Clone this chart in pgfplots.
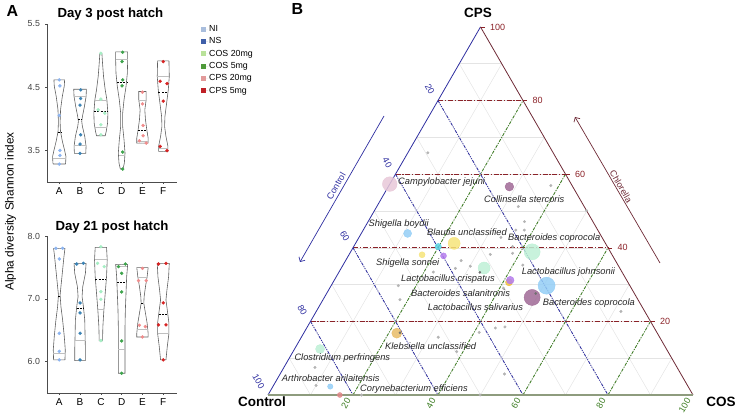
\documentclass[border=0pt]{standalone}
\usepackage{fontspec}
\setmainfont{Liberation Sans}
\usepackage{pgfplots}
\pgfplotsset{compat=1.18}
\usepackage{pgfplotstable}
\usetikzlibrary{arrows.meta}

\definecolor{cNI}{HTML}{8CB4F0}
\definecolor{cNS}{HTML}{3A82B4}
\definecolor{cCa}{HTML}{A6EEC4}
\definecolor{cCb}{HTML}{3DA34B}
\definecolor{cPa}{HTML}{F08C8C}
\definecolor{cPb}{HTML}{D62222}
\definecolor{lNI}{HTML}{A9BEDD}
\definecolor{lNS}{HTML}{3F5FA9}
\definecolor{lCa}{HTML}{B9E29A}
\definecolor{lCb}{HTML}{4E9A3A}
\definecolor{lPa}{HTML}{E29A9A}
\definecolor{lPb}{HTML}{BF2026}
\definecolor{ctlc}{HTML}{2E2EA0}
\definecolor{cpsc}{HTML}{8B2228}
\definecolor{edgec}{HTML}{6E2A36}
\definecolor{cosc}{HTML}{3C7D22}
\definecolor{botc}{HTML}{8E9C7E}
\definecolor{gridc}{HTML}{E4E4E4}
\definecolor{dotc}{HTML}{B4B4B4}
\definecolor{ddotc}{HTML}{707070}
\definecolor{bPink}{HTML}{E8C8D8}
\definecolor{bPurp}{HTML}{A06A96}
\definecolor{bBlue}{HTML}{94CEF6}
\definecolor{bYel}{HTML}{F6E47A}
\definecolor{bCyan}{HTML}{5AD4E2}
\definecolor{bViol}{HTML}{B47CEC}
\definecolor{bMint}{HTML}{BEF0D6}
\definecolor{bOrg}{HTML}{F0C040}
\definecolor{bKle}{HTML}{E8BC68}
\definecolor{bRed}{HTML}{E08888}

\newcommand{\tlf}{\fontsize{9}{10}\selectfont}
\newcommand{\spf}{\fontsize{9.3}{11}\selectfont\itshape\color{black!85}}

\pgfplotsset{
  vio/.style={draw=black!62, line width=0.6pt, no markers, forget plot},
  qline/.style={draw=black!25, line width=0.6pt, no markers, forget plot},
  mline/.style={draw=black, line width=0.7pt, dash pattern=on 2pt off 1.3pt, no markers, forget plot},
  pt/.style={only marks, mark=*, mark size=1.5pt, forget plot},
  panelA/.style={scale only axis, width=130pt, xmin=0.41, xmax=6.66,
    axis lines=left, axis line style={draw=black!70, line width=0.6pt, -},
    xtick={1,2,3,4,5,6}, xticklabels={A,B,C,D,E,F},
    tick align=outside, major tick length=2pt, tick style={black!70, line width=0.5pt},
    yticklabel style={font=\fontsize{8.8}{10}\selectfont, text=black!75, xshift=-1.5pt},
    xticklabel style={font=\fontsize{10}{12}\selectfont},
    /pgf/number format/assume math mode=true,
    title style={font=\fontsize{13.2}{15}\selectfont\bfseries, anchor=center, yshift=-7pt},
    clip=false}
}

\newcommand{\violin}[2]{%
  \addplot[vio] table[x expr=#1+\thisrow{w}, y=v] {#2};
  \addplot[vio] table[x expr=#1-\thisrow{w}, y=v] {#2};
}
\newcommand{\bub}[4]{%
  \addplot[only marks, color=#4, mark=*, mark size=#3pt, mark options={fill=#4, draw=none, fill opacity=0.85}] table[x expr=\thisrow{c}+0.5*\thisrow{p}, y expr=0.8660254*\thisrow{p}, row sep=\\] {c p\\ #1 #2\\};
}

% ---------- Day 3 violins (value, half width in category units)
\pgfplotstableread{
v w
4.616 0
4.616 0.257
4.52 0.241
4.35 0.145
4.15 0.064
3.95 0.040
3.80 0.060
3.65 0.145
3.50 0.257
3.40 0.322
3.30 0.305
3.284 0.289
3.284 0
}\vAthree
\pgfplotstableread{
v w
4.468 0
4.468 0.305
4.353 0.289
4.195 0.209
4.037 0.113
3.958 0.080
3.879 0.113
3.721 0.225
3.563 0.289
3.453 0.273
3.453 0
}\vBthree
\pgfplotstableread{
v w
5.037 0
5.037 0.048
4.879 0.080
4.668 0.129
4.458 0.209
4.300 0.289
4.089 0.338
3.932 0.322
3.800 0.257
3.732 0.209
3.732 0
}\vCthree
\pgfplotstableread{
v w
5.058 0
5.058 0.289
4.932 0.289
4.721 0.273
4.511 0.209
4.300 0.113
4.089 0.048
3.879 0.048
3.668 0.113
3.458 0.161
3.300 0.129
3.205 0.064
3.205 0
}\vDthree
\pgfplotstableread{
v w
4.432 0
4.432 0.177
4.300 0.177
4.142 0.113
3.984 0.145
3.826 0.209
3.695 0.273
3.616 0.273
3.616 0
}\vEthree
\pgfplotstableread{
v w
4.916 0
4.916 0.273
4.668 0.289
4.458 0.241
4.247 0.161
4.037 0.080
3.879 0.064
3.721 0.129
3.563 0.225
3.484 0.225
3.484 0
}\vFthree
% ---------- Day 21 violins
\pgfplotstableread{
v w
7.804 0
7.804 0.273
7.671 0.225
7.459 0.161
7.247 0.096
7.061 0.040
6.875 0.080
6.663 0.161
6.398 0.241
6.186 0.289
6.027 0.273
6.027 0
}\vAtw
\pgfplotstableread{
v w
7.565 0
7.565 0.289
7.406 0.257
7.194 0.129
7.034 0.096
6.875 0.161
6.663 0.225
6.398 0.241
6.186 0.257
6.016 0.257
6.016 0
}\vBtw
\pgfplotstableread{
v w
7.82 0
7.82 0.273
7.618 0.305
7.353 0.273
7.088 0.209
6.822 0.145
6.557 0.096
6.329 0.080
6.329 0
}\vCtw
\pgfplotstableread{
v w
7.549 0
7.549 0.289
7.353 0.241
7.088 0.209
6.822 0.177
6.557 0.161
6.292 0.161
6.027 0.161
5.814 0.161
5.814 0
}\vDtw
\pgfplotstableread{
v w
7.496 0
7.496 0.273
7.353 0.225
7.194 0.145
7.034 0.080
6.928 0.064
6.769 0.145
6.610 0.225
6.451 0.273
6.392 0.273
6.392 0
}\vEtw
\pgfplotstableread{
v w
7.565 0
7.565 0.289
7.353 0.257
7.141 0.177
6.981 0.129
6.822 0.193
6.610 0.273
6.451 0.273
6.239 0.193
6.027 0.129
6.027 0
}\vFtw

% ---------- ternary: small grey taxa (COS %, CPS %)
\pgfplotstableread{
c p
4.7 65.8
38.1 56.9
33.3 51.2
36.8 47.1
37.9 44.8
35.9 44.8
33.4 42.8
37.4 40.3
33.2 38.2
38.3 38.5
42.3 35.3
49.9 50.1
27.2 36.5
26.9 34.4
30.1 35.0
22.2 33.4
15.8 29.7
18.1 25.9
40.9 29.0
44.4 18.2
46.5 18.5
41.2 17.0
32.2 15.7
38.5 11.8
52.8 5.7
7.3 7.5
10.0 2.6
22.0 0
49.9 0
71.7 22.7
}\grayd
\pgfplotstableread{
c p
33.2 33.3
49.2 27.6
22.6 16.9
}\darkd

\begin{document}
\begin{tikzpicture}
\path[use as bounding box] (0,0) rectangle (737pt,414pt);

% ================= Panel A, Day 3
\begin{axis}[panelA, at={(47pt,232pt)}, anchor=south west, height=158pt,
  ymin=3.0, ymax=5.5, ytick={3.5,4.5,5.5}, yticklabels={3.5,4.5,5.5},
  title={Day 3 post hatch}, title style={at={(0.488,1.07)}},
  legend image code/.code={\fill[#1] (0pt,-2.4pt) rectangle (4.8pt,2.4pt); \path (0pt,0pt) -- (7pt,0pt);},
  legend style={at={(1.185,1.0)}, anchor=north west, draw=none, fill=none,
    font=\fontsize{8.8}{10}\selectfont, row sep=2.1pt, inner sep=0pt,
    nodes={inner sep=1pt, anchor=west, text height=6.4pt, text depth=1.8pt}},
  legend cell align=left,
  legend entries={NI,NS,COS 20mg,COS 5mg,CPS 20mg,CPS 5mg}]
\addlegendimage{fill=lNI, draw=none}
\addlegendimage{fill=lNS, draw=none}
\addlegendimage{fill=lCa, draw=none}
\addlegendimage{fill=lCb, draw=none}
\addlegendimage{fill=lPa, draw=none}
\addlegendimage{fill=lPb, draw=none}
\violin{1}{\vAthree}
\violin{2}{\vBthree}
\violin{3}{\vCthree}
\violin{4}{\vDthree}
\violin{5}{\vEthree}
\violin{6}{\vFthree}
% quartiles
\addplot[qline] coordinates {(0.68,3.379) (1.32,3.379)};
\addplot[qline] coordinates {(1.71,4.363) (2.29,4.363)};
\addplot[qline] coordinates {(1.71,3.574) (2.29,3.574)};
\addplot[qline] coordinates {(2.71,4.30) (3.29,4.30)};
\addplot[qline] coordinates {(2.69,3.863) (3.31,3.863)};
\addplot[qline] coordinates {(3.71,4.942) (4.29,4.942)};
\addplot[qline] coordinates {(3.85,3.416) (4.15,3.416)};
\addplot[qline] coordinates {(4.83,4.30) (5.17,4.30)};
\addplot[qline] coordinates {(4.73,3.642) (5.27,3.642)};
\addplot[qline] coordinates {(5.71,4.668) (6.29,4.668)};
\addplot[qline] coordinates {(5.78,3.537) (6.22,3.537)};
% medians
\addplot[mline] coordinates {(0.92,3.784) (1.08,3.784)};
\addplot[mline] coordinates {(1.90,3.995) (2.10,3.995)};
\addplot[mline] coordinates {(2.67,4.116) (3.33,4.116)};
\addplot[mline] coordinates {(3.76,4.574) (4.24,4.574)};
\addplot[mline] coordinates {(4.78,3.81) (5.22,3.81)};
\addplot[mline] coordinates {(5.77,4.426) (6.23,4.426)};
% points
\addplot[pt, cNI] coordinates {(1,4.616) (1.03,4.521) (1,4.053) (1.03,3.50) (1.03,3.421) (1,3.284)};
\addplot[pt, cNS] coordinates {(2.03,4.458) (2.03,4.321) (2,4.216) (2.03,3.747) (2,3.60) (2,3.453)};
\addplot[pt, cCa] coordinates {(3,5.037) (3,4.311) (2.87,4.142) (3.19,4.089) (3,3.905) (3,3.747)};
\addplot[pt, cCb] coordinates {(4.05,5.053) (4.02,4.905) (4.05,4.616) (4.02,4.521) (4.05,3.474) (4.05,3.205)};
\addplot[pt, cPa] coordinates {(5,4.421) (5,4.237) (5.03,3.895) (5.03,3.732) (4.85,3.653) (5.18,3.616)};
\addplot[pt, cPb] coordinates {(6,4.905) (5.85,4.595) (6.18,4.558) (6,4.279) (5.85,3.563) (6.18,3.495)};
\end{axis}

% ================= Panel A, Day 21
\begin{axis}[panelA, at={(47pt,21pt)}, anchor=south west, height=157pt,
  ymin=5.5, ymax=8.0, ytick={6,7,8}, yticklabels={6.0,7.0,8.0},
  title={Day 21 post hatch}, title style={at={(0.50,1.064)}}]
\violin{1}{\vAtw}
\violin{2}{\vBtw}
\violin{3}{\vCtw}
\violin{4}{\vDtw}
\violin{5}{\vEtw}
\violin{6}{\vFtw}
\addplot[qline] coordinates {(0.72,6.133) (1.28,6.133)};
\addplot[qline] coordinates {(1.76,6.345) (2.24,6.345)};
\addplot[qline] coordinates {(2.70,7.63) (3.30,7.63)};
\addplot[qline] coordinates {(2.85,6.833) (3.15,6.833)};
\addplot[qline] coordinates {(3.72,7.51) (4.28,7.51)};
\addplot[qline] coordinates {(3.84,6.196) (4.16,6.196)};
\addplot[qline] coordinates {(4.78,7.337) (5.22,7.337)};
\addplot[qline] coordinates {(4.74,6.509) (5.26,6.509)};
\addplot[qline] coordinates {(5.73,6.451) (6.27,6.451)};
\addplot[mline] coordinates {(0.94,7.045) (1.06,7.045)};
\addplot[mline] coordinates {(1.83,6.849) (2.17,6.849)};
\addplot[mline] coordinates {(2.73,7.31) (3.27,7.31)};
\addplot[mline] coordinates {(3.77,7.257) (4.23,7.257)};
\addplot[mline] coordinates {(4.93,6.928) (5.07,6.928)};
\addplot[mline] coordinates {(5.78,6.759) (6.22,6.759)};
\addplot[pt, cNI] coordinates {(0.84,7.804) (1.16,7.804) (1,7.634) (1,6.451) (1,6.164) (1,6.027)};
\addplot[pt, cNS] coordinates {(1.84,7.554) (2.16,7.565) (2,6.934) (2,6.775) (2,6.451) (2,6.027)};
\addplot[pt, cCa] coordinates {(3,7.83) (2.84,7.565) (3.16,7.512) (3,7.114) (3,6.992) (3,6.334)};
\addplot[pt, cCb] coordinates {(3.85,7.512) (4.18,7.554) (4,7.406) (4,7.109) (4,6.329) (4,5.814)};
\addplot[pt, cPa] coordinates {(5,7.485) (4.81,7.289) (5.18,7.289) (4.85,6.578) (5.14,6.557) (5,6.392)};
\addplot[pt, cPb] coordinates {(5.77,7.554) (6.13,7.565) (6,6.934) (5.77,6.584) (6.13,6.584) (6,6.027)};
\end{axis}

\node[rotate=90, font=\fontsize{11.8}{14}\selectfont] at (10.5pt,202.5pt) {Alpha diversity Shannon index};
\node[font=\fontsize{16}{18}\selectfont\bfseries] at (12.5pt,403pt) {A};
\node[font=\fontsize{16}{18}\selectfont\bfseries] at (297.5pt,404.5pt) {B};

% ================= Panel B, ternary (x = COS + CPS/2, y = 0.866 CPS)
\begin{axis}[at={(268pt,19pt)}, anchor=south west, scale only axis, width=425pt, height=368.06pt,
  xmin=0, xmax=100, ymin=0, ymax=86.60254, hide axis, clip=false]
\pgfplotsinvokeforeach{10,20,...,90}{
  \draw[gridc, line width=0.5pt] (axis cs:{#1/2},{0.8660254*#1}) -- (axis cs:{100-#1/2},{0.8660254*#1});
  \draw[gridc, line width=0.5pt] (axis cs:#1,0) -- (axis cs:{50+#1/2},{0.8660254*(100-#1)});
  \draw[gridc, line width=0.5pt] (axis cs:{(100-#1)/2},{0.8660254*(100-#1)}) -- (axis cs:{100-#1},0);
}
\pgfplotsinvokeforeach{20,40,60,80}{
  \draw[cpsc, line width=1pt, dash pattern=on 5pt off 1.8pt on 1.2pt off 1.8pt] (axis cs:{#1/2},{0.8660254*#1}) -- (axis cs:{100-#1/2},{0.8660254*#1});
  \draw[cosc, line width=0.85pt, dash pattern=on 3pt off 1.4pt on 1pt off 1.4pt] (axis cs:#1,0) -- (axis cs:{50+#1/2},{0.8660254*(100-#1)});
  \draw[ctlc, line width=0.85pt, dash pattern=on 3pt off 1.2pt on 1pt off 1.2pt on 1pt off 1.2pt] (axis cs:{(100-#1)/2},{0.8660254*(100-#1)}) -- (axis cs:{100-#1},0);
}
\draw[ctlc, line width=0.8pt] (axis cs:0,0) -- (axis cs:50,86.60254);
\draw[edgec, line width=0.8pt] (axis cs:50,86.60254) -- (axis cs:100,0);
\draw[botc, line width=1.3pt] (axis cs:0,0) -- (axis cs:100,0);
\pgfplotsinvokeforeach{20,40,60,80,100}{
  \draw[cpsc, line width=0.5pt] (axis cs:{100-#1/2},{0.8660254*#1}) -- ++(4pt,0);
  \node[anchor=west, text=cpsc, font=\tlf, xshift=6pt] at (axis cs:{100-#1/2},{0.8660254*#1}) {#1};
  \node[xshift=-5pt, yshift=6pt, anchor=east, rotate=-60, text=ctlc, font=\tlf, inner sep=1pt] at (axis cs:{(100-#1)/2},{0.8660254*(100-#1)}) {#1};
  \node[xshift=-4pt, yshift=-3pt, anchor=east, rotate=60, text=cosc, font=\tlf, inner sep=1pt] at (axis cs:#1,0) {#1};
}
% bubbles
\bub{0}{57.3}{7.3}{bPink}
\bub{28.5}{56.6}{4.3}{bPurp}
\bub{10.9}{43.9}{4.0}{bBlue}
\bub{23.2}{41.2}{6.0}{bYel}
\bub{19.9}{40.3}{3.2}{bCyan}
\bub{17.2}{38.1}{3.0}{bYel}
\bub{22.4}{37.8}{3.0}{bViol}
\bub{42.7}{38.9}{8.0}{bMint}
\bub{33.6}{34.5}{6.0}{bMint}
\bub{50.7}{29.7}{8.5}{bBlue}
\bub{41.4}{30.6}{3.5}{bOrg}
\bub{41.4}{31.2}{3.8}{bViol}
\bub{48.9}{26.5}{8.0}{bPurp}
\bub{21.9}{16.8}{5.0}{bKle}
\bub{6.0}{12.5}{4.5}{bMint}
\bub{13.5}{2.3}{2.7}{bBlue}
\bub{16.9}{0}{2.5}{bRed}
\addplot[only marks, color=dotc, mark=*, mark size=1.3pt, mark options={fill=dotc, draw=none}] table[x expr=\thisrow{c}+0.5*\thisrow{p}, y expr=0.8660254*\thisrow{p}] {\grayd};
\addplot[only marks, color=ddotc, mark=*, mark size=1.1pt, mark options={fill=ddotc, draw=none}] table[x expr=\thisrow{c}+0.5*\thisrow{p}, y expr=0.8660254*\thisrow{p}] {\darkd};
\end{axis}

% species labels
\node[anchor=west, inner sep=0pt, font=\spf] at (398pt,232pt) {Campylobacter jejuni};
\node[anchor=west, inner sep=0pt, font=\spf] at (484pt,215.3pt) {Collinsella stercoris};
\node[anchor=west, inner sep=0pt, font=\spf] at (368.5pt,190pt) {Shigella boydii};
\node[anchor=west, inner sep=0pt, font=\spf] at (427pt,182.3pt) {Blautia unclassified};
\node[anchor=west, inner sep=0pt, font=\spf] at (508pt,175.7pt) {Bacteroides coprocola};
\node[anchor=west, inner sep=0pt, font=\spf] at (376pt,150.7pt) {Shigella sonnei};
\node[anchor=west, inner sep=0pt, font=\spf] at (521.7pt,142.3pt) {Lactobacillus johnsonii};
\node[anchor=west, inner sep=0pt, font=\spf] at (401pt,135pt) {Lactobacillus crispatus};
\node[anchor=west, inner sep=0pt, font=\spf] at (411pt,120.7pt) {Bacteroides salanitronis};
\node[anchor=west, inner sep=0pt, font=\spf] at (542.7pt,111.3pt) {Bacteroides coprocola};
\node[anchor=west, inner sep=0pt, font=\spf] at (427.7pt,106.7pt) {Lactobacillus salivarius};
\node[anchor=west, inner sep=0pt, font=\spf] at (385pt,68.3pt) {Klebsiella unclassified};
\node[anchor=west, inner sep=0pt, font=\spf] at (294.3pt,56.2pt) {Clostridium perfringens};
\node[anchor=west, inner sep=0pt, font=\spf] at (281.7pt,36.3pt) {Arthrobacter arilaitensis};
\node[anchor=west, inner sep=0pt, font=\spf] at (360pt,25pt) {Corynebacterium efficiens};

% axis arrows and titles
\draw[ctlc, line width=0.7pt, -{Straight Barb[length=3.5pt,width=7pt]}] (384pt,298pt) -- (300pt,152pt);
\node[rotate=60, text=ctlc, font=\fontsize{9}{10}\selectfont] at (336pt,228pt) {Control};
\draw[edgec, line width=0.7pt, -{Straight Barb[length=3.5pt,width=7pt]}] (660pt,151pt) -- (575pt,297pt);
\node[rotate=-60, text=edgec, font=\fontsize{9}{10}\selectfont] at (621pt,227.3pt) {Chlorella};
\node[font=\fontsize{13.5}{15}\selectfont\bfseries] at (478pt,401pt) {CPS};
\node[font=\fontsize{13.5}{15}\selectfont\bfseries] at (262pt,12pt) {Control};
\node[font=\fontsize{13.5}{15}\selectfont\bfseries] at (721pt,12pt) {COS};
\end{tikzpicture}
\end{document}
